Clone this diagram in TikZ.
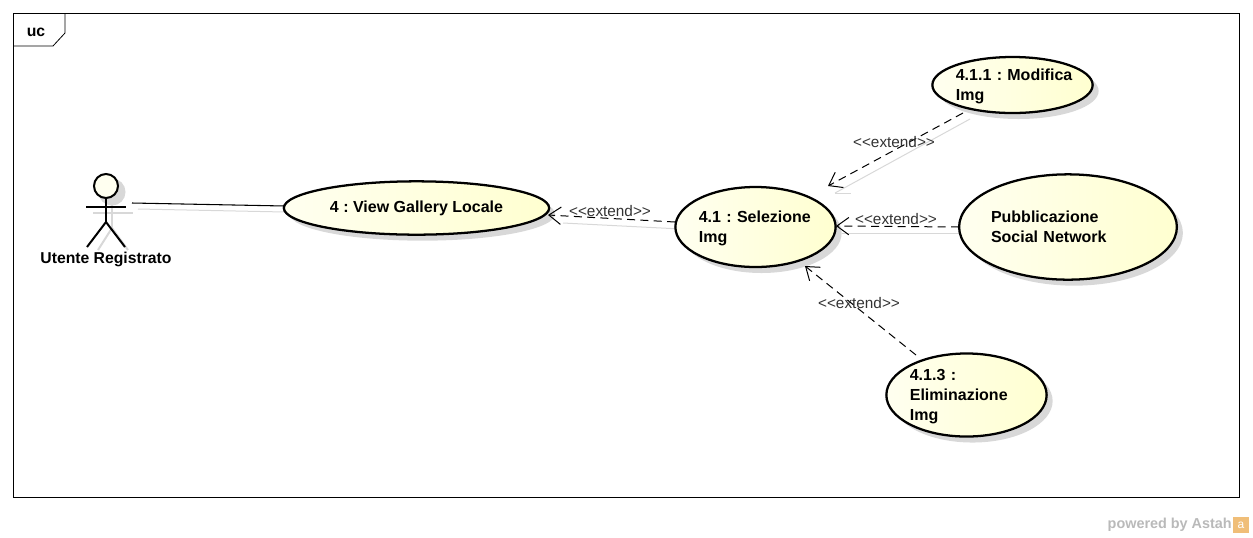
\documentclass[tikz,border=0pt]{standalone}
\usepackage{fontspec}
\setmainfont{Liberation Sans}
\usetikzlibrary{arrows.meta, shadows, backgrounds, shapes.geometric}
\definecolor{caseleft}{RGB}{255,255,240}
\definecolor{caseright}{RGB}{255,255,208}
\definecolor{shadowgray}{RGB}{216,216,216}
\definecolor{markgray}{RGB}{185,185,185}
\definecolor{markorange}{RGB}{240,190,120}
\newcommand{\extendtext}{<{}<extend>{}>}
\newcommand{\firstline}{\rule{0pt}{11.5pt}}

\begin{document}
\begin{tikzpicture}[
    x=0.75pt, y=-0.75pt,
    usecase/.style={
      ellipse,
      draw=black,
      line width=1.7pt,
      inner sep=0pt,
      left color=caseleft,
      right color=caseright,
      align=left,
      font=\fontsize{12}{15}\selectfont\bfseries\frenchspacing,
      copy shadow={draw=none, fill=shadowgray, shadow xshift=4.5pt, shadow yshift=-4.5pt}
    },
    extendline/.style={
      dashed,
      dash pattern=on 6pt off 4pt,
      line width=0.75pt,
      -{Straight Barb[length=9pt, width=13pt]}
    },
    extendshade/.style={
      line width=0.75pt,
      draw=shadowgray
    },
    extendlabel/.style={
      font=\fontsize{11.5}{13}\selectfont,
      text=black!80,
      inner sep=0pt
    },
    stick/.style={
      line width=1.5pt
    },
    stickshade/.style={
      line width=1.5pt,
      draw=shadowgray
    }
  ]
  \useasboundingbox (0,0) rectangle (1253,537);

  % frame
  \draw[line width=0.6pt] (13,13) rectangle (1239,497);
  \draw[line width=0.6pt] (13,46) -- (53,46) -- (65,33) -- (65,13);
  \node[font=\fontsize{11.8}{13}\selectfont\bfseries, inner sep=0pt] (uc) at (36,32) {uc};

  % use cases
  \node[usecase, minimum width=199pt, minimum height=40pt] (view) at (416.5,208) {\raisebox{-1.5pt}{4 : View Gallery Locale}};
  \node[usecase, text width=85pt, minimum width=120pt, minimum height=60pt] (select) at (755.5,227) {\firstline 4.1 : Selezione\\Img};
  \node[usecase, text width=85pt, minimum width=120pt, minimum height=42pt] (edit) at (1012.5,85) {\firstline\mbox{4.1.1 : Modifica}\\Img};
  \node[usecase, text width=115.5pt, minimum width=163pt, minimum height=79pt] (social) at (1068,227) {Pubblicazione\\Social Network};
  \node[usecase, text width=85pt, minimum width=120pt, minimum height=61pt] (remove) at (966.5,395) {\firstline 4.1.3 :\\Eliminazione\\Img};

  % actor
  \node[circle, draw=black, line width=1.5pt, fill=caseleft, minimum size=18pt, inner sep=0pt] (head) at (106,186) {};
  \coordinate (hip) at (106,222);
  \coordinate (armleft) at (86,207);
  \coordinate (armright) at (126,207);
  \coordinate (footleft) at (87,247);
  \coordinate (footright) at (125,247);
  \draw[stick] (head) -- (hip);
  \draw[stick] (armleft) -- (armright);
  \draw[stick] (footleft) -- (hip) -- (footright);
  \node[font=\fontsize{11.8}{13}\selectfont\bfseries, inner sep=0pt] (actorname) at (106,259.5) {Utente Registrato};

  % free ends of the connectors
  \coordinate (assocstart) at (132,203);
  \coordinate (assocend) at (285,206);
  \coordinate (viewtip) at (548,215);
  \coordinate (selectleft) at (675,222);
  \coordinate (selectright) at (836,226);
  \coordinate (socialleft) at (959,227);
  \coordinate (selecttop) at (828,186);
  \coordinate (editfoot) at (963,113);
  \coordinate (selectfoot) at (805,266);
  \coordinate (removetop) at (916,355);

  % connectors
  \draw[line width=0.8pt] (assocstart) -- (assocend);
  \draw[extendline] (selectleft) -- (viewtip);
  \draw[extendline] (socialleft) -- (selectright);
  \draw[extendline] (editfoot) -- (selecttop);
  \draw[extendline] (removetop) -- (selectfoot);

  % connector labels
  \node[extendlabel] (labelview) at (610,211) {\extendtext};
  \node[extendlabel] (labelsocial) at (896,219) {\extendtext};
  \node[extendlabel] (labeledit) at (894,142) {\extendtext};
  \node[extendlabel] (labelremove) at (859,303) {\extendtext};

  % shadows of the lines
  \begin{scope}[on background layer]
    \draw[stickshade, fill=shadowgray] (112,192) circle (12.5);
    \draw[stickshade] (112,200) -- (112,228);
    \draw[stickshade] (93,213) -- (133,213);
    \draw[stickshade] (112,228) -- (98,250);
    \draw[stickshade] (112,228) -- (128,250);
    \draw[extendshade] (138,209) -- (285,212);
    \draw[extendshade] (563,223) -- (681,229);
    \draw[extendshade] (842,233) -- (959,233);
    \draw[extendshade] (970,119) -- (835,193);
    \draw[extendshade] (835,193) -- (851,193);
  \end{scope}

  % watermark
  \node[font=\fontsize{10.8}{12}\selectfont\bfseries, text=markgray, inner sep=0pt, anchor=east] (mark) at (1232,525) {powered by Astah};
  \node[fill=markorange, minimum size=11.5pt, inner sep=0pt, font=\fontsize{9}{9}\selectfont, text=white, anchor=west] (logo) at (1233,525) {a};
\end{tikzpicture}
\end{document}
